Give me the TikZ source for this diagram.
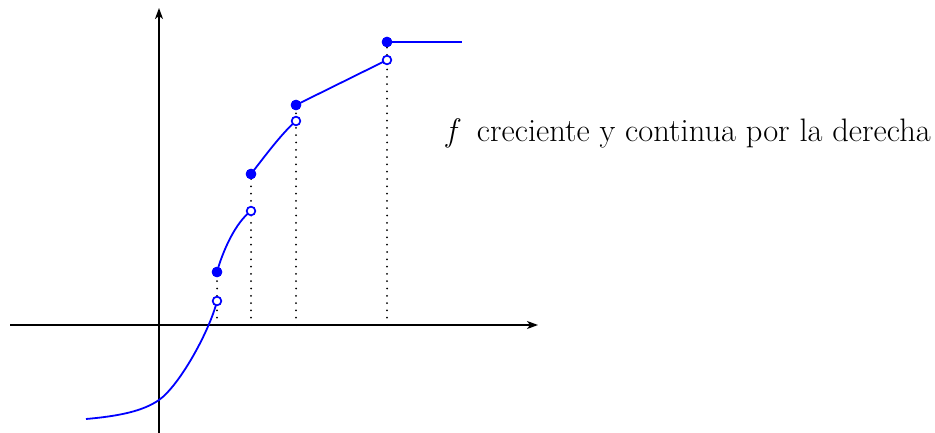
\documentclass[tikz,border=0pt]{standalone}
\usetikzlibrary{arrows.meta}
\begin{document}
\begin{tikzpicture}[x=1pt,y=-1pt,
  axis/.style={line width=1.6pt,-{Stealth[length=11pt,width=8pt,inset=3pt]}},
  fn/.style={blue,line width=1.8pt},
  guide/.style={line width=2pt,line cap=round,dash pattern=on 0pt off 7.3pt},
  closedpt/.style={circle,fill=blue,draw=blue,inner sep=0pt,minimum size=10pt},
  openpt/.style={circle,fill=white,draw=blue,line width=1.6pt,inner sep=0pt,minimum size=8.5pt},
  lbl/.style={anchor=base west,inner sep=0pt,font=\fontsize{32.5}{36}\selectfont}]
\useasboundingbox (0,0) rectangle (935,433);
% axes
\coordinate (xl) at (10,325);
\coordinate (xr) at (538,325);
\coordinate (yb) at (159,433);
\coordinate (yt) at (159,8);
\draw[axis] (xl) -- (xr);
\draw[axis] (yb) -- (yt);
% points
\coordinate (s0) at (86,419);
\coordinate (s1) at (159,400);
\node[openpt] (o1) at (217,301) {};
\node[closedpt] (c1) at (217,272) {};
\node[openpt] (o2) at (251,211) {};
\node[closedpt] (c2) at (251,174) {};
\node[openpt] (o3) at (296,121) {};
\node[closedpt] (c3) at (296,105) {};
\node[openpt] (o4) at (387,60) {};
\node[closedpt] (c4) at (387,42) {};
\coordinate (e4) at (462,42);
% guides
\coordinate (g1) at (217,325);
\coordinate (g2) at (251,325);
\coordinate (g3) at (296,325);
\coordinate (g4) at (387,325);
\draw[guide] (g1) -- (c1.center);
\draw[guide] (g2) -- (c2.center);
\draw[guide] (g3) -- (c3.center);
\draw[guide] (g4) -- (c4.center);
% curves
\draw[fn] (s0) .. controls (120,416) and (143,411) .. (s1)
  .. controls (180,385) and (210,330) .. (o1.center);
\draw[fn] (c1.center) .. controls (223,250) and (236,222) .. (o2.center);
\draw[fn] (c2.center) .. controls (265,156) and (282,133) .. (o3.center);
\draw[fn] (c3.center) -- (o4.center);
\draw[fn] (c4.center) -- (e4);
% redraw points on top
\node[openpt] at (o1) {};
\node[closedpt] at (c1) {};
\node[openpt] at (o2) {};
\node[closedpt] at (c2) {};
\node[openpt] at (o3) {};
\node[closedpt] at (c3) {};
\node[openpt] at (o4) {};
\node[closedpt] at (c4) {};
% label
\node[lbl] (t) at (446,142) {\textit{f}\hspace{0.5em}creciente y continua por la derecha};
\end{tikzpicture}
\end{document}
